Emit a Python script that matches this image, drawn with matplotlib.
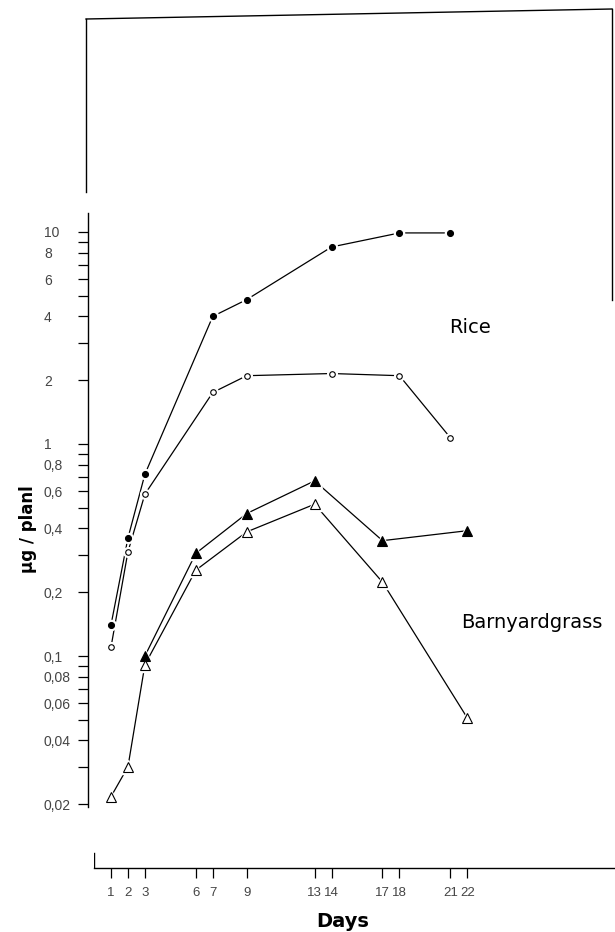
import matplotlib
matplotlib.use('Agg')
import matplotlib.pyplot as plt
from matplotlib.lines import Line2D
from matplotlib.ticker import FixedLocator, FixedFormatter, NullLocator

# readings from the scan (ug per plant, log scale)
days_rice = [1, 2, 3, 7, 9, 14, 18, 21]
rice_filled = [0.14, 0.36, 0.72, 4.0, 4.8, 8.5, 9.9, 9.9]
rice_open = [0.11, 0.31, 0.58, 1.75, 2.1, 2.15, 2.1, 1.07]

days_grass_filled = [3, 6, 9, 13, 17, 22]
grass_filled = [0.10, 0.305, 0.47, 0.67, 0.35, 0.39]
days_grass_open = [1, 2, 3, 6, 9, 13, 17, 22]
grass_open = [0.0217, 0.030, 0.091, 0.254, 0.385, 0.52, 0.223, 0.051]

x_ticks = [1, 2, 3, 6, 7, 9, 13, 14, 17, 18, 21, 22]
y_ticks = [10, 9, 8, 7, 6, 5, 4, 3, 2, 1, 0.9, 0.8, 0.7, 0.6, 0.5, 0.4, 0.3, 0.2,
           0.1, 0.09, 0.08, 0.07, 0.06, 0.05, 0.04, 0.03, 0.02]
y_labels = ['10', '', '8', '', '6', '', '4', '', '2', '1', '', '0,8', '', '0,6', '',
            '0,4', '', '0,2', '0,1', '', '0,08', '', '0,06', '', '0,04', '', '0,02']

W, H = 615, 932
tick_font = ['Liberation Sans', 'DejaVu Sans']

fig = plt.figure(figsize=(W / 100, H / 100), dpi=100)
ax = fig.add_axes([94 / W, (H - 868) / H, (W - 94) / W, (868 - 200) / H])
ax.set_yscale('log')
ax.set_ylim(0.01, 10 ** (-2 + 668 / 212))
ax.set_xlim(0, (W - 94) / 16.97)


def series(x, y, marker, filled, ms):
    ax.plot(x, y, color='black', lw=0.9, zorder=2)
    # white halo so the line stops short of each symbol, like the drawing
    ax.plot(x, y, ls='none', marker=marker, ms=ms + 3, mfc='white', mec='white', zorder=3)
    ax.plot(x, y, ls='none', marker=marker, ms=ms, mec='black', mew=0.8,
            mfc='black' if filled else 'white', zorder=4)


series(days_rice, rice_filled, 'o', True, 4.3)
series(days_rice, rice_open, 'o', False, 4.0)
series(days_grass_filled, grass_filled, '^', True, 6.5)
series(days_grass_open, grass_open, '^', False, 6.5)

for s in ['top', 'right']:
    ax.spines[s].set_visible(False)
ax.spines['left'].set_position(('outward', 4))
ax.spines['left'].set_bounds(0.0195, 12.3)
ax.spines['left'].set_linewidth(1.0)
ax.spines['bottom'].set_linewidth(1.0)
ax.axvline(0, 0, 15 / 668, color='black', lw=1.0)

ax.yaxis.set_major_locator(FixedLocator(y_ticks))
ax.yaxis.set_major_formatter(FixedFormatter(y_labels))
ax.yaxis.set_minor_locator(NullLocator())
ax.tick_params(axis='y', direction='out', length=7, width=0.9, pad=25)
for lab in ax.get_yticklabels():
    lab.set_horizontalalignment('left')
    lab.set_family(tick_font)
    lab.set_fontsize(10)
    lab.set_color('#444444')

ax.set_xticks(x_ticks)
ax.set_xticklabels([str(d) for d in x_ticks], family=tick_font, fontsize=9.5, color='#444444')
ax.tick_params(axis='x', direction='out', length=7, width=0.9, pad=7)

fig.text(449 / W, 1 - 333 / H, 'Rice', fontsize=14, va='baseline', ha='left')
fig.text(461 / W, 1 - 628 / H, 'Barnyardgrass', fontsize=14, va='baseline', ha='left')
fig.text(343 / W, 1 - 927 / H, 'Days', fontsize=14, weight='bold', va='baseline', ha='center')
fig.text(28 / W, 1 - 529 / H, 'µg / planl', fontsize=12, weight='bold', rotation=90,
         va='center', ha='center')

# outline of the plate above the graph
def fig_line(xs, ys):
    fig.add_artist(Line2D([x / W for x in xs], [1 - y / H for y in ys],
                          color='black', lw=1.0, transform=fig.transFigure))


fig_line([86, 612], [19, 9])
fig_line([86, 86], [19, 192])
fig_line([612, 612], [9, 300])

fig.savefig('out.png', dpi=100)
